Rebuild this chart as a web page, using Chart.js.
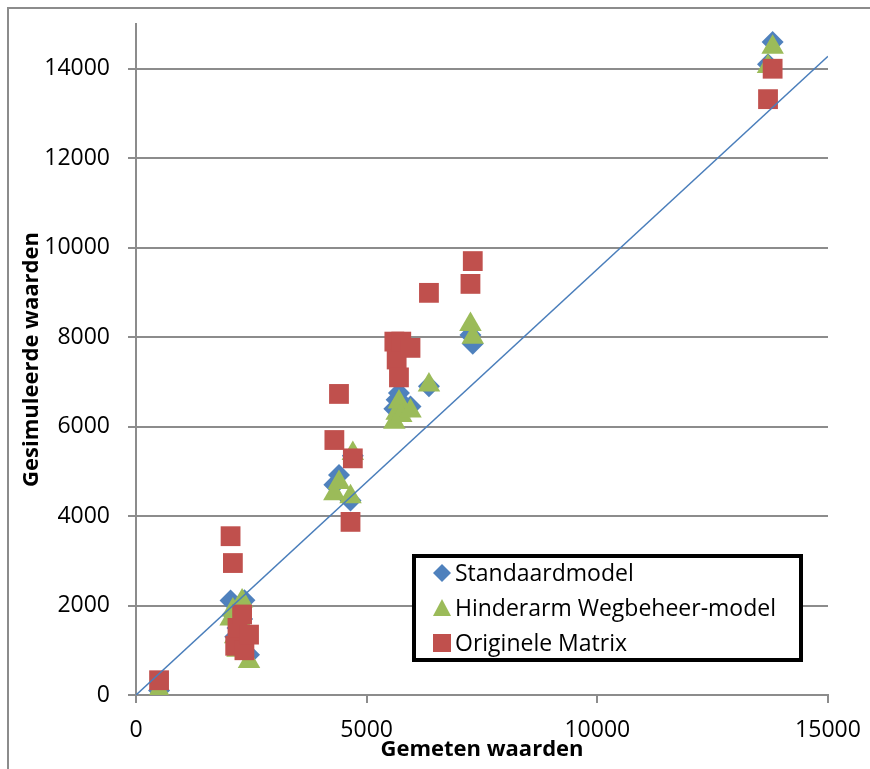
<!DOCTYPE html>
<html>
<head>
<meta charset="utf-8">
<script src="https://cdn.jsdelivr.net/npm/chart.js@4/dist/chart.umd.min.js"></script>
<style>
  body { margin: 0; background: #fff; }
</style>
</head>
<body>
<canvas id="chart" width="870" height="769"></canvas>
<script>
// gemeten waarden (x) - shared by all three series
const gemeten   = [500, 2050, 2100, 2150, 2200, 2300, 2350, 2450, 4300, 4400, 4650, 4700, 5600, 5650, 5700, 5750, 5950, 6350, 7250, 7300, 13700, 13800];
// gesimuleerde waarden (y)
const standaard = [100, 2110, 1800, 1300, 1500, 1700, 2120, 900, 4700, 4920, 4350, 5350, 6400, 6600, 6750, 6550, 6450, 6900, 8050, 7850, 14100, 14600];
const hinderarm = [100, 1700, 1900, 1300, 1000, 2100, 1500, 750, 4500, 4750, 4430, 5400, 6100, 6300, 6550, 6250, 6350, 6930, 8280, 8000, 14050, 14480];
const origineel = [330, 3550, 2950, 1100, 1500, 1800, 1000, 1350, 5700, 6730, 3870, 5290, 7900, 7500, 7100, 7900, 7760, 8990, 9190, 9700, 13320, 14000];
// straight reference line
const lijnX = [0, 15000];
const lijnY = [0, 14280];
const yTicks = [0, 2000, 4000, 6000, 8000, 10000, 12000, 14000];
const xTicks = [0, 5000, 10000, 15000];

const labels = ['Standaardmodel', 'Hinderarm Wegbeheer-model', 'Originele Matrix'];
const colors = ['#4F81BD', '#9BBB59', '#C0504D'];

const pts = ys => gemeten.map((x, i) => ({x: x, y: ys[i]}));

Chart.defaults.font.family = "'Open Sans', sans-serif";
Chart.defaults.color = '#000';

// white page + thin grey frame around the chart
const frame = {
  id: 'frame',
  beforeDraw(chart) {
    const ctx = chart.ctx;
    ctx.save();
    ctx.fillStyle = '#fff';
    ctx.fillRect(0, 0, chart.width, chart.height);
    ctx.strokeStyle = '#8c8c8c';
    ctx.lineWidth = 2;
    ctx.beginPath();
    ctx.moveTo(8, chart.height);
    ctx.lineTo(8, 8);
    ctx.lineTo(chart.width, 8);
    ctx.stroke();
    ctx.restore();
  }
};

// legend box drawn inside the plot like the Excel one
const boxLegend = {
  id: 'boxLegend',
  afterDraw(chart) {
    const ctx = chart.ctx;
    ctx.save();
    ctx.fillStyle = '#fff';
    ctx.fillRect(414, 556, 387, 104);
    ctx.strokeStyle = '#000';
    ctx.lineWidth = 4;
    ctx.strokeRect(414, 556, 387, 104);
    ctx.font = "23px 'Open Sans', sans-serif";
    ctx.textBaseline = 'middle';
    labels.forEach((txt, i) => {
      const cy = 573 + i * 35;
      const cx = 442;
      ctx.fillStyle = colors[i];
      ctx.beginPath();
      if (i === 0) {
        ctx.moveTo(cx, cy - 9); ctx.lineTo(cx + 9, cy); ctx.lineTo(cx, cy + 9); ctx.lineTo(cx - 9, cy);
      } else if (i === 1) {
        ctx.moveTo(cx, cy - 9); ctx.lineTo(cx + 9, cy + 8); ctx.lineTo(cx - 9, cy + 8);
      } else {
        ctx.rect(cx - 9, cy - 9, 18, 18);
      }
      ctx.closePath();
      ctx.fill();
      ctx.fillStyle = '#000';
      ctx.fillText(txt, 455, cy + 1);
    });
    ctx.restore();
  }
};

new Chart(document.getElementById('chart'), {
  type: 'scatter',
  data: {
    datasets: [
      {
        type: 'line',
        label: 'lijn',
        data: lijnX.map((x, i) => ({x: x, y: lijnY[i]})),
        borderColor: '#4A7EBB',
        borderWidth: 1.5,
        pointRadius: 0,
        fill: false,
        order: 0
      },
      {
        label: labels[2],
        data: pts(origineel),
        backgroundColor: colors[2],
        borderWidth: 0,
        pointStyle: 'rect',
        pointRadius: 14,
        order: 1
      },
      {
        label: labels[1],
        data: pts(hinderarm),
        backgroundColor: colors[1],
        borderWidth: 0,
        pointStyle: 'triangle',
        pointRadius: 13,
        order: 2
      },
      {
        label: labels[0],
        data: pts(standaard),
        backgroundColor: colors[0],
        borderWidth: 0,
        pointStyle: 'rectRot',
        pointRadius: 11,
        order: 3
      }
    ]
  },
  options: {
    responsive: false,
    animation: false,
    events: [],
    layout: { padding: { top: 24, right: 42, left: 0, bottom: 0 } },
    plugins: {
      legend: { display: false },
      tooltip: { enabled: false }
    },
    scales: {
      x: {
        type: 'linear',
        min: 0,
        max: 15000,
        afterBuildTicks: s => { s.ticks = xTicks.map(v => ({value: v})); },
        afterFit: s => { s.height = 74; s.paddingLeft = 0; s.paddingRight = 0; },
        ticks: { font: { size: 23 }, padding: 14, maxRotation: 0, callback: v => String(v) },
        grid: { drawOnChartArea: false, tickLength: 8, color: '#8c8c8c', lineWidth: 2 },
        border: { color: '#8c8c8c', width: 2 },
        title: {
          display: true,
          text: 'Gemeten waarden',
          font: { size: 22, weight: 'bold' },
          padding: { top: 0, bottom: 6 }
        }
      },
      y: {
        min: 0,
        max: 15000,
        afterBuildTicks: s => { s.ticks = yTicks.map(v => ({value: v})); },
        afterFit: s => { s.width = 136; s.paddingTop = 0; s.paddingBottom = 0; },
        ticks: { font: { size: 23 }, padding: 18, callback: v => String(v) },
        grid: { color: '#8c8c8c', lineWidth: 2, tickLength: 8 },
        border: { color: '#8c8c8c', width: 2 },
        title: {
          display: true,
          text: 'Gesimuleerde waarden',
          font: { size: 22, weight: 'bold' },
          padding: { top: 19, bottom: 0 }
        }
      }
    }
  },
  plugins: [frame, boxLegend]
});
</script>
</body>
</html>
